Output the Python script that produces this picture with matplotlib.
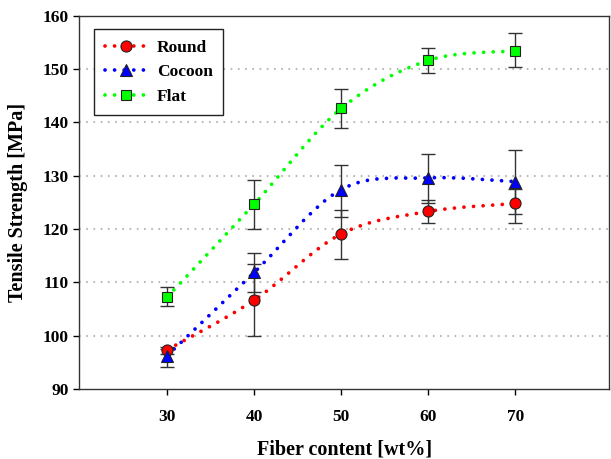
import matplotlib
matplotlib.use("Agg")
import matplotlib.pyplot as plt
from matplotlib.path import Path
from matplotlib.patches import PathPatch
from matplotlib.lines import Line2D

plt.rcParams['font.family'] = ['Liberation Serif', 'DejaVu Serif']
plt.rcParams['font.weight'] = 'bold'
plt.rcParams['lines.scale_dashes'] = False

fiber = [30, 40, 50, 60, 70]

round_mean = [97.4, 106.7, 119.1, 123.3, 124.8]
round_lo = [96.6, 100.0, 114.4, 121.1, 121.1]
round_hi = [97.9, 113.4, 123.5, 125.4, 127.5]

cocoon_mean = [96.3, 111.9, 127.4, 129.6, 128.9]
cocoon_lo = [94.1, 108.3, 122.3, 124.8, 122.8]
cocoon_hi = [97.6, 115.6, 132.1, 134.0, 134.9]

flat_mean = [107.3, 124.7, 142.6, 151.6, 153.4]
flat_lo = [105.6, 120.1, 138.9, 149.2, 150.4]
flat_hi = [109.1, 129.2, 146.2, 153.9, 156.7]


def smooth_path(x, y):
    # catmull-rom spline as cubic bezier segments
    pts = list(zip(x, y))
    pts = [pts[0]] + pts + [pts[-1]]
    verts = [pts[1]]
    codes = [Path.MOVETO]
    for i in range(1, len(pts) - 2):
        p0, p1, p2, p3 = pts[i - 1], pts[i], pts[i + 1], pts[i + 2]
        c1 = (p1[0] + (p2[0] - p0[0]) / 6, p1[1] + (p2[1] - p0[1]) / 6)
        c2 = (p2[0] - (p3[0] - p1[0]) / 6, p2[1] - (p3[1] - p1[1]) / 6)
        verts += [c1, c2, p2]
        codes += [Path.CURVE4] * 3
    return Path(verts, codes)


fig = plt.figure(figsize=(6.11, 4.59), dpi=100)
ax = fig.add_axes([0.13, 0.152, 0.867, 0.814])

dots = (0, (0.01, 6.9))
lw = 2.7
series = [
    ("Round", round_mean, round_lo, round_hi, "#ff0000", "o", 8),
    ("Cocoon", cocoon_mean, cocoon_lo, cocoon_hi, "#0000ff", "^", 9),
    ("Flat", flat_mean, flat_lo, flat_hi, "#00ff00", "s", 7.5),
]

handles = []
for name, m, lo, hi, col, mk, ms in series:
    patch = PathPatch(smooth_path(fiber, m), fill=False, edgecolor=col,
                      linewidth=lw, linestyle=dots, capstyle='round', zorder=2)
    ax.add_patch(patch)
    err = [[a - b for a, b in zip(m, lo)], [b - a for a, b in zip(m, hi)]]
    ax.errorbar(fiber, m, yerr=err, fmt='none', ecolor='#333333',
                elinewidth=1, capsize=5, capthick=1, zorder=3)
    ax.plot(fiber, m, linestyle='none', marker=mk, markersize=ms,
            markerfacecolor=col, markeredgecolor='#222222',
            markeredgewidth=0.8, zorder=4)
    handles.append(Line2D([], [], color=col, linestyle=dots, linewidth=lw,
                          dash_capstyle='round', marker=mk, markersize=ms,
                          markerfacecolor=col, markeredgecolor='#222222',
                          markeredgewidth=0.8))

ax.set_xlim(19.9, 80.8)
ax.set_ylim(90, 160)
ax.set_xticks(fiber)
ax.set_yticks(range(90, 161, 10))
ax.tick_params(direction='out', length=4.5, width=1, labelsize=12.5)
ax.tick_params(axis='x', pad=10)
ax.tick_params(axis='y', pad=3)
for t in ax.get_xticklabels() + ax.get_yticklabels():
    t.set_fontweight('bold')

for yv in range(100, 160, 10):
    ax.axhline(yv, color='#b8b8b8', linestyle=(0, (1.2, 4)), linewidth=1.5, zorder=1)

for s in ax.spines.values():
    s.set_color('#333333')
    s.set_linewidth(1)

ax.set_xlabel("Fiber content [wt%]", fontsize=14.5, fontweight='bold', labelpad=10)
ax.set_ylabel("Tensile Strength [MPa]", fontsize=14.5, fontweight='bold', labelpad=11)

leg = ax.legend(handles, [s[0] for s in series], loc='upper left',
                bbox_to_anchor=(0.028, 0.964), borderaxespad=0, fancybox=False,
                framealpha=1, edgecolor='#222222', handlelength=2.4,
                handletextpad=0.6, borderpad=0.6, labelspacing=0.48,
                prop={'size': 12.5, 'weight': 'bold'})
leg.get_frame().set_linewidth(1)

fig.savefig("out.png", dpi=100)
